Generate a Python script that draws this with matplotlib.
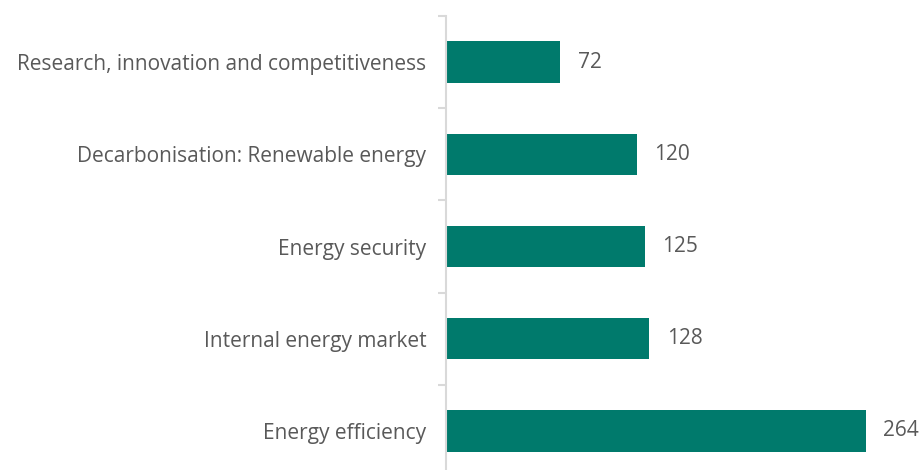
import matplotlib.pyplot as plt
import numpy as np

categories = [
    "Research, innovation and competitiveness",
    "Decarbonisation: Renewable energy",
    "Energy security",
    "Internal energy market",
    "Energy efficiency",
]
counts = [72, 120, 125, 128, 264]

BAR_COLOR = "#007A6C"
TEXT_COLOR = "#595959"
AXIS_COLOR = "#D9D9D9"

plt.rcParams["font.family"] = ["Open Sans", "DejaVu Sans"]

fig = plt.figure(figsize=(9.23, 4.70), dpi=100)
ax = fig.add_axes([0.483, -0.015, 0.517, 0.981])

y = np.arange(len(categories))
ax.barh(y, counts, height=0.45, color=BAR_COLOR)
ax.set_ylim(len(categories) - 0.5, -0.5)
ax.set_xlim(0, 300)

# value labels just past the end of each bar
for yi, v in zip(y, counts):
    ax.text(v + 11, yi, str(v), va="center", ha="left",
            fontsize=15, color=TEXT_COLOR)

ax.set_yticks(y)
ax.set_yticklabels(categories, fontsize=15, color=TEXT_COLOR)
ax.tick_params(axis="y", which="major", length=0, pad=14)
# short tick marks between categories
ax.set_yticks(np.arange(len(categories) + 1) - 0.5, minor=True)
ax.tick_params(axis="y", which="minor", length=6, width=1.5, color=AXIS_COLOR)

ax.set_xticks([])
for side in ["top", "right", "bottom"]:
    ax.spines[side].set_visible(False)
ax.spines["left"].set_color(AXIS_COLOR)
ax.spines["left"].set_linewidth(1.5)

fig.savefig("out.png", dpi=100)
